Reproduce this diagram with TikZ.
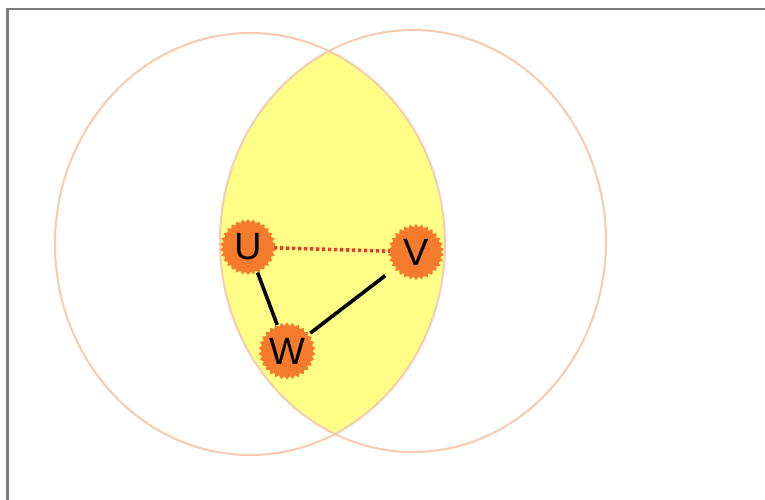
\documentclass[tikz,border=0pt]{standalone}
\usepackage{fontspec}
\setmainfont{Liberation Sans}
\usetikzlibrary{shapes.geometric}
\definecolor{ringc}{HTML}{F6CBAE}
\definecolor{lensc}{HTML}{FFFF88}
\definecolor{starc}{HTML}{F47A2C}
\definecolor{dotc}{HTML}{E0402A}
\definecolor{framec}{HTML}{7A7A7A}
\begin{document}
\begin{tikzpicture}[x=1pt,y=-1pt,
  vert/.style={star, star points=30, star point ratio=1.13, fill=starc, draw=none,
    minimum size=56pt, inner sep=0pt, font=\fontsize{38}{44}\selectfont},
  ring/.style={draw=ringc, line width=2pt},
  solidedge/.style={draw=black, line width=3.6pt},
  dotedge/.style={draw=dotc, line width=3.6pt, dash pattern=on 3.4pt off 2.6pt}]
\useasboundingbox (0,0) rectangle (765,499);
\clip (0,0) rectangle (765,499);
\fill[white] (0,0) rectangle (765,499);
\draw[framec, line width=2.6pt] (7.5,9) rectangle (775,510);
% lens
\begin{scope}
  \clip (250,244) ellipse [x radius=195, y radius=211];
  \fill[lensc] (413,241) ellipse [x radius=193, y radius=211];
\end{scope}
\draw[ring] (250,244) ellipse [x radius=195, y radius=211];
\draw[ring] (413,241) ellipse [x radius=193, y radius=211];
% nodes
\node[vert] (U) at (248,247) {U};
\node[vert] (V) at (416,252) {V};
\node[vert] (W) at (287,351) {W};
% edges
\draw[dotedge, shorten <=0pt, shorten >=0pt] (U) -- (V);
\draw[solidedge, shorten <=1pt, shorten >=1pt] (U) -- (W);
\draw[solidedge, shorten <=13pt, shorten >=3pt] (V) -- (W);
\end{tikzpicture}
\end{document}
